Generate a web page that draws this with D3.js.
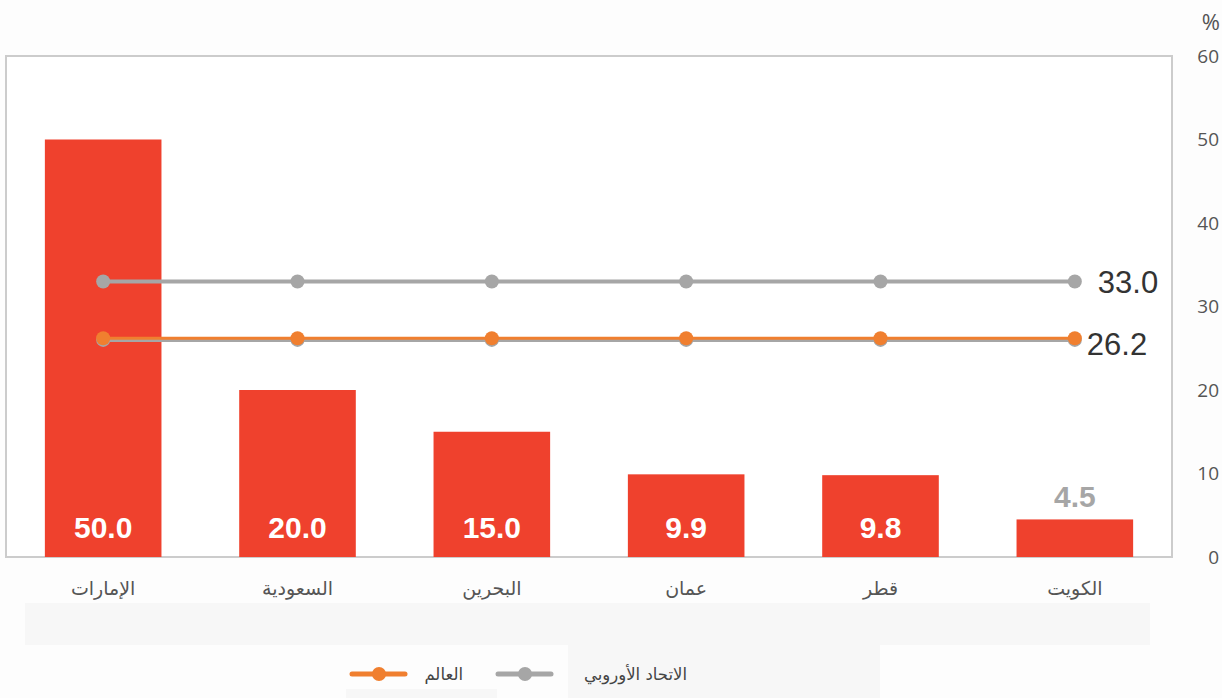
<!DOCTYPE html>
<html>
<head>
<meta charset="utf-8">
<script src="https://cdn.jsdelivr.net/npm/d3@7"></script>
<style>
  body { margin: 0; background: #fdfdfd; }
  svg { display: block; }
</style>
</head>
<body>
<div id="chart"></div>
<script>
// بيانات الرسم
const countries = ['الإمارات', 'السعودية', 'البحرين', 'عمان', 'قطر', 'الكويت'];
const shares = [50.0, 20.0, 15.0, 9.9, 9.8, 4.5];
const euValues = [33.0, 33.0, 33.0, 33.0, 33.0, 33.0];
const worldValues = [26.2, 26.2, 26.2, 26.2, 26.2, 26.2];
const hiddenValues = [26.0, 26.0, 26.0, 26.0, 26.0, 26.0];
const yTicks = [0, 10, 20, 30, 40, 50, 60];
const legendLabels = ['العالم', 'الاتحاد الأوروبي'];

const W = 1222, H = 698;
const plot = { left: 6, right: 1172, top: 56, bottom: 557 };

const svg = d3.select('#chart').append('svg')
    .attr('width', W).attr('height', H);

svg.append('rect').attr('width', W).attr('height', H).attr('fill', '#fdfdfd');

// خلفيات رمادية فاتحة أسفل المحور
svg.append('rect').attr('x', 25).attr('y', 603).attr('width', 1125).attr('height', 42).attr('fill', '#f7f7f7');
svg.append('rect').attr('x', 568).attr('y', 645).attr('width', 312).attr('height', 53).attr('fill', '#f7f7f7');
svg.append('rect').attr('x', 346).attr('y', 689).attr('width', 151).attr('height', 9).attr('fill', '#f7f7f7');

const x = d3.scaleBand()
    .domain(countries)
    .range([plot.left, plot.right])
    .paddingInner(0.4)
    .paddingOuter(0.2);

const y = d3.scaleLinear()
    .domain([0, 60])
    .range([plot.bottom, plot.top]);

// الإطار
svg.append('rect')
    .attr('x', plot.left).attr('y', plot.top)
    .attr('width', plot.right - plot.left).attr('height', plot.bottom - plot.top)
    .attr('fill', '#fff').attr('stroke', '#cccccc').attr('stroke-width', 2);

// المحور الأيمن
const yAxis = svg.append('g')
    .attr('transform', `translate(${plot.right + 47},0)`)
    .call(d3.axisRight(y).tickValues(yTicks).tickSize(0).tickPadding(0));
yAxis.select('.domain').remove();
yAxis.selectAll('text')
    .attr('text-anchor', 'end')
    .attr('font-family', 'Open Sans, sans-serif')
    .attr('font-size', 19)
    .attr('fill', '#555');

svg.append('text')
    .attr('x', 1220).attr('y', 30)
    .attr('text-anchor', 'end')
    .attr('font-family', 'Open Sans, sans-serif')
    .attr('font-size', 22)
    .attr('fill', '#555')
    .text('%');

// الأعمدة
svg.selectAll('rect.bar')
    .data(shares)
    .enter().append('rect')
    .attr('class', 'bar')
    .attr('x', (d, i) => x(countries[i]))
    .attr('width', x.bandwidth())
    .attr('y', d => y(d))
    .attr('height', d => y(0) - y(d))
    .attr('fill', '#ef412d');

svg.selectAll('text.barlabel')
    .data(shares)
    .enter().append('text')
    .attr('class', 'barlabel')
    .attr('x', (d, i) => x(countries[i]) + x.bandwidth() / 2)
    .attr('y', d => d < 8 ? y(d) - 12 : y(0) - 19)
    .attr('text-anchor', 'middle')
    .attr('font-family', 'Liberation Sans, Arial, sans-serif')
    .attr('font-weight', 'bold')
    .attr('font-size', 30)
    .attr('fill', d => d < 8 ? '#a6a6a6' : '#ffffff')
    .text(d => d.toFixed(1));

// تسميات المحور السيني
svg.selectAll('text.cat')
    .data(countries)
    .enter().append('text')
    .attr('class', 'cat')
    .attr('x', d => x(d) + x.bandwidth() / 2)
    .attr('y', 595)
    .attr('text-anchor', 'middle')
    .attr('font-family', 'DejaVu Sans, sans-serif')
    .attr('font-size', 19)
    .attr('fill', '#555')
    .text(d => d);

// الخطوط
const cx = (d, i) => x(countries[i]) + x.bandwidth() / 2;
const line = d3.line().x(cx).y(d => y(d));

function drawSeries(values, color, width, r) {
    svg.append('path')
        .datum(values)
        .attr('d', line)
        .attr('fill', 'none')
        .attr('stroke', color)
        .attr('stroke-width', width);
    svg.append('g').selectAll('circle')
        .data(values)
        .enter().append('circle')
        .attr('cx', cx)
        .attr('cy', d => y(d))
        .attr('r', r)
        .attr('fill', color);
}

drawSeries(hiddenValues, '#a6a6a6', 4, 7);
drawSeries(euValues, '#a6a6a6', 4, 7);
drawSeries(worldValues, '#f07f2f', 3, 7);

svg.append('text')
    .attr('x', cx(0, 5) + 23).attr('y', y(euValues[5]) + 12)
    .attr('font-family', 'Liberation Sans, Arial, sans-serif')
    .attr('font-size', 31)
    .attr('fill', '#333')
    .text(euValues[5].toFixed(1));

svg.append('text')
    .attr('x', cx(0, 5) + 12).attr('y', y(worldValues[5]) + 17)
    .attr('font-family', 'Liberation Sans, Arial, sans-serif')
    .attr('font-size', 31)
    .attr('fill', '#333')
    .text(worldValues[5].toFixed(1));

// وسيلة الإيضاح
const legend = [
    { label: legendLabels[0], color: '#f07f2f', x: 352, tx: 463 },
    { label: legendLabels[1], color: '#a6a6a6', x: 498, tx: 687 }
];
legend.forEach(l => {
    svg.append('line')
        .attr('x1', l.x).attr('x2', l.x + 53)
        .attr('y1', 674).attr('y2', 674)
        .attr('stroke', l.color).attr('stroke-width', 5)
        .attr('stroke-linecap', 'round');
    svg.append('circle')
        .attr('cx', l.x + 27).attr('cy', 674).attr('r', 7)
        .attr('fill', l.color);
    svg.append('text')
        .attr('x', l.tx).attr('y', 680)
        .attr('text-anchor', 'end')
        .attr('font-family', 'DejaVu Sans, sans-serif')
        .attr('font-size', 16.5)
        .attr('fill', '#444')
        .text(l.label);
});
</script>
</body>
</html>
